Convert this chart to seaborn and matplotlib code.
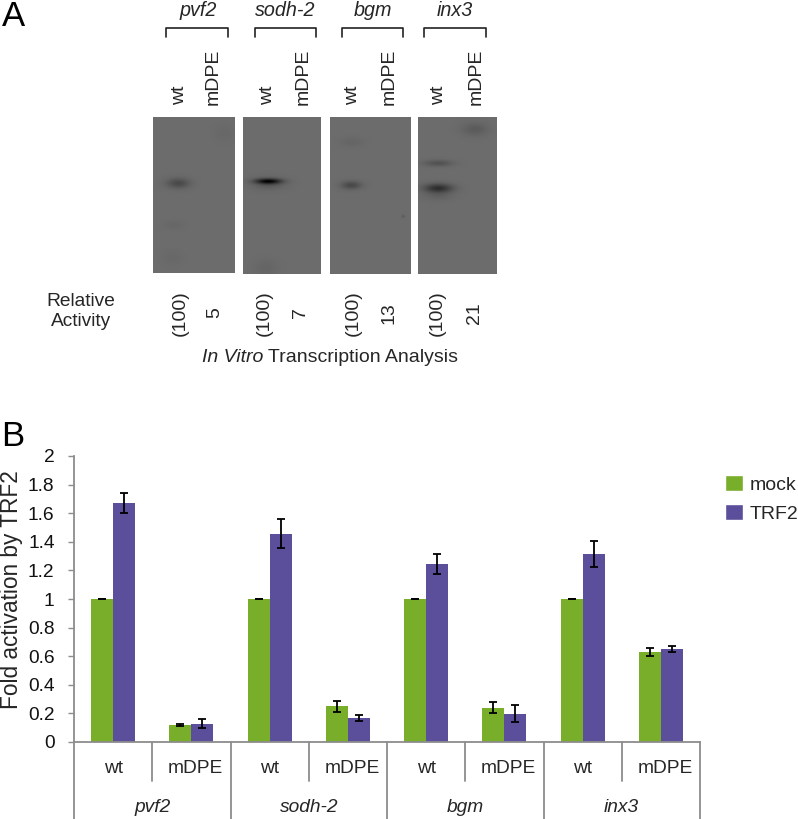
#!/usr/bin/env python3
import numpy as np
import pandas as pd
import seaborn as sns
import matplotlib.pyplot as plt
from matplotlib.patches import Patch

genes = ['pvf2', 'sodh-2', 'bgm', 'inx3']
constructs = ['wt', 'mDPE']
treatments = ['mock', 'TRF2']
relative_activity = ['(100)', '5', '(100)', '7', '(100)', '13', '(100)', '21']

mock_values = [1, 0.12, 1, 0.25, 1, 0.24, 1, 0.63]
trf2_values = [1.674, 0.128, 1.458, 0.167, 1.244, 0.198, 1.314, 0.649]
mock_err = [0.002, 0.005, 0.002, 0.04, 0.002, 0.04, 0.002, 0.028]
trf2_err = [0.07, 0.03, 0.10, 0.02, 0.07, 0.06, 0.09, 0.02]

GREEN = '#79AE2B'
PURPLE = '#5B4E9B'
GREY = '#8C8C8C'
W, H = 798, 819

sns.set_theme(style='white')
plt.rcParams['font.family'] = ['Liberation Sans', 'DejaVu Sans']
plt.rcParams['axes.unicode_minus'] = False

fig = plt.figure(figsize=(W / 100, H / 100), dpi=100, facecolor='white')

# overlay in pixel coordinates, for panel A and the lettering
pix = fig.add_axes([0, 0, 1, 1])
pix.set_xlim(0, W)
pix.set_ylim(H, 0)
pix.axis('off')


# gel panels: x0, x1, y0, y1 and the bands on them (x, y, sx, sy, darkness)
def gel(x0, x1, y0, y1, bands):
    xx, yy = np.meshgrid(np.arange(x0, x1, 0.5), np.arange(y0, y1, 0.5))
    img = np.full(xx.shape, 108.0)
    for bx, by, sx, sy, amp in bands:
        img -= amp * np.exp(-((xx - bx) / sx) ** 2 / 2 - ((yy - by) / sy) ** 2 / 2)
    pix.imshow(img, extent=[x0, x1, y1, y0], cmap='gray', vmin=0, vmax=255,
               aspect='auto', interpolation='bilinear', zorder=1)


gel(153, 235, 117, 273, [(178, 183, 8, 3.5, 34), (174, 225, 7, 3, 5), (224, 133, 7, 6, 4), (172, 258, 7, 5, 4)])
gel(243, 321, 117, 274, [(268, 181, 9, 1.8, 90), (268, 183, 11, 4, 22), (266, 268, 8, 6, 7)])
gel(330, 411, 117, 274, [(351, 185, 7, 2.8, 36), (352, 142, 8, 3, 7), (403, 216, 1, 1, 20)])
gel(418, 497, 117, 274, [(438, 188, 10, 3.2, 62), (438, 163, 10, 2.2, 26), (475, 129, 9, 4.5, 17), (438, 196, 10, 3, 10)])
pix.set_xlim(0, W)
pix.set_ylim(H, 0)

# panel A lettering
pix.text(2, 26, 'A', fontsize=25, ha='left', va='baseline', color='black')
pix.text(1, 446, 'B', fontsize=25, ha='left', va='baseline', color='black')

gene_x = [198, 285, 373, 455]
bracket_x = [(166, 228), (255, 316), (342, 403), (424, 486)]
for g, gx, (b0, b1) in zip(genes, gene_x, bracket_x):
    pix.text(gx, 10, g, style='italic', fontsize=14.2, ha='center', va='center')
    pix.plot([b0, b0, b1, b1], [37, 27.5, 27.5, 37], color='#222222', lw=1.2, zorder=2)

lane_x = [180, 213, 268, 303, 353, 389, 439, 476]
for i, lx in enumerate(lane_x):
    pix.text(lx, 105, constructs[i % 2], rotation=90, fontsize=14, ha='center', va='bottom')

activity_x = [180, 215, 264, 300, 353, 389, 437, 474]
for val, ax_x in zip(relative_activity, activity_x):
    pix.text(ax_x, 313, val, rotation=90, fontsize=14, ha='center', va='center')

pix.text(81, 301, 'Relative', fontsize=13.8, ha='center', va='center')
pix.text(81, 322, 'Activity', fontsize=13.8, ha='center', va='center')
pix.text(263, 357, 'In Vitro', style='italic', fontsize=14, ha='right', va='center')
pix.text(268, 357, 'Transcription Analysis', fontsize=14, ha='left', va='center')

# panel B
categories = [g + ' ' + c for g in genes for c in constructs]
df = pd.DataFrame({
    'category': categories * 2,
    'treatment': ['mock'] * 8 + ['TRF2'] * 8,
    'value': mock_values + trf2_values,
})

ax = fig.add_axes([74 / W, 1 - 742 / H, (700 - 74) / W, (742 - 456) / H])
ax.patch.set_alpha(0)
sns.barplot(data=df, x='category', y='value', hue='treatment', order=categories,
            hue_order=treatments, palette=[GREEN, PURPLE], width=0.56, saturation=1,
            errorbar=None, legend=False, linewidth=0, ax=ax)

# error bars go on the centre of each bar seaborn drew
for cont, err in zip(ax.containers, [mock_err, trf2_err]):
    xs = [p.get_x() + p.get_width() / 2 for p in cont]
    ys = [p.get_height() for p in cont]
    ax.errorbar(xs, ys, yerr=err, fmt='none', ecolor='black', elinewidth=1.3,
                capsize=3, capthick=1.3, zorder=5)

ax.set_xlim(-0.5, 7.5)
ax.set_ylim(0, 2)
ax.set_yticks(np.arange(0, 2.01, 0.2))
ax.set_yticklabels(['0', '0.2', '0.4', '0.6', '0.8', '1', '1.2', '1.4', '1.6', '1.8', '2'], fontsize=13.8)
ax.tick_params(axis='y', length=4.5, width=1, color=GREY, left=True, pad=9.5, labelcolor='#111111')
ax.set_xlabel('')
ax.set_ylabel('')
ax.set_xticks([])
sns.despine(ax=ax, top=True, right=True)
for s in ['left', 'bottom']:
    ax.spines[s].set_color(GREY)
    ax.spines[s].set_linewidth(1.3)

pix.text(12, 590, 'Fold activation by TRF2', rotation=90, fontsize=16.3, ha='center', va='center')

# two level category axis under the bars
trans = ax.get_xaxis_transform()
for i in range(9):
    if i % 2 == 0:
        ax.plot([i - 0.5, i - 0.5], [0, -0.3], transform=trans, color=GREY, lw=1.3, clip_on=False)
    else:
        ax.plot([i - 0.5, i - 0.5], [0, -0.135], transform=trans, color=GREY, lw=1.3, clip_on=False)
for i, c in enumerate(categories):
    name = c.split(' ')[1]
    off = 0.055 if name == 'mDPE' else 0
    ax.text(i + off, -0.0915, name, transform=trans, fontsize=13.8, ha='center', va='center')
for i, g in enumerate(genes):
    ax.text(2 * i + 0.5, -0.228, g, transform=trans, style='italic', fontsize=13.8, ha='center', va='center')

handles = [Patch(facecolor=GREEN, label='mock'), Patch(facecolor=PURPLE, label='TRF2')]
fig.legend(handles=handles, loc='upper left', bbox_to_anchor=(725 / W, 1 - 475 / H), frameon=False,
           fontsize=14, handlelength=0.92, handleheight=0.92, handletextpad=0.36, labelspacing=0.5,
           borderpad=0, borderaxespad=0)

fig.savefig('out.png', dpi=100)
